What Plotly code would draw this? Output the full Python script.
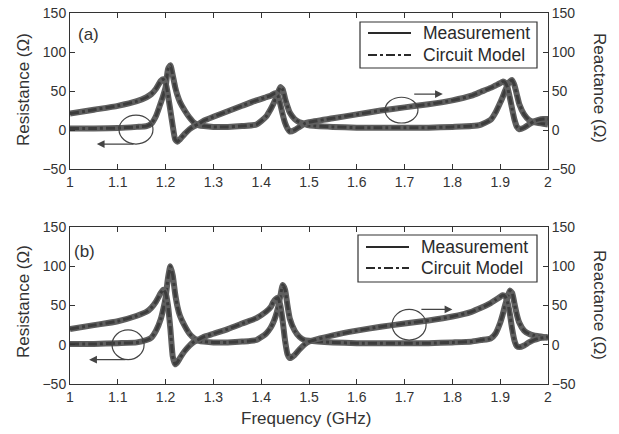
import plotly.graph_objects as go

# ---------------- data ----------------
freq = [1.00, 1.05, 1.10, 1.14, 1.16, 1.17, 1.18, 1.19, 1.195, 1.20, 1.205, 1.21, 1.215,
        1.22, 1.225, 1.23, 1.24, 1.25, 1.26, 1.27, 1.28, 1.30, 1.33, 1.36, 1.39, 1.41,
        1.42, 1.425, 1.43, 1.435, 1.44, 1.445, 1.45, 1.455, 1.46, 1.47, 1.48, 1.49, 1.50,
        1.55, 1.60, 1.65, 1.70, 1.75, 1.80, 1.84, 1.86, 1.88, 1.89, 1.90, 1.905, 1.91,
        1.915, 1.92, 1.925, 1.93, 1.935, 1.94, 1.95, 1.96, 1.97, 1.98, 1.99, 2.00]

# panel (a)
resistance_a = [2, 2, 2.5, 4, 5, 8, 18, 35, 44, 55, 78, 83, 70,
                55, 44, 36, 25, 16, 9, 6, 5, 4, 4, 5, 7, 17,
                27, 33, 40, 48, 55, 52, 40, 30, 22, 14, 10, 8, 6,
                4, 3, 3, 3, 3, 4, 5, 7, 13, 22, 35, 42, 50,
                57, 62, 64, 57, 45, 33, 20, 13, 10, 9, 8, 7]
reactance_a = [21, 26, 31, 37, 42, 46, 53, 63, 65, 60, 45, 25, 5,
               -12, -15, -12, -5, 1, 5, 8, 12, 17, 24, 31, 38, 42,
               44, 46, 47, 44, 33, 20, 9, 2, -2, 0, 4, 8, 10,
               15, 20, 25, 29, 33, 38, 44, 49, 54, 57, 60, 62, 61,
               55, 42, 27, 13, 4, 1, 3, 7, 11, 13, 14, 14]
model_resistance_a = resistance_a
model_reactance_a = reactance_a

# panel (b)
resistance_b = [1, 1, 2, 3, 6, 9, 18, 33, 45, 60, 85, 100, 88,
                65, 48, 37, 24, 14, 8, 5, 4, 3, 3, 4, 6, 14,
                22, 28, 36, 47, 62, 76, 70, 50, 33, 18, 10, 6, 5,
                3, 2, 2, 2, 2, 3, 4, 6, 8, 14, 28, 38, 50,
                60, 69, 66, 52, 38, 28, 18, 14, 12, 11, 10, 9]
reactance_b = [20, 25, 30, 37, 42, 47, 55, 66, 70, 66, 50, 20, -15,
               -25, -22, -17, -8, -1, 4, 7, 10, 14, 20, 27, 34, 42,
               48, 54, 58, 60, 50, 30, 5, -12, -17, -13, -6, 0, 4,
               12, 18, 23, 27, 31, 36, 42, 47, 53, 57, 61, 63, 62,
               55, 40, 20, 5, -2, -3, -1, 3, 6, 8, 9, 10]
model_resistance_b = resistance_b
model_reactance_b = reactance_b

x_ticks = [1, 1.1, 1.2, 1.3, 1.4, 1.5, 1.6, 1.7, 1.8, 1.9, 2]
x_ticklabels = ["1", "1.1", "1.2", "1.3", "1.4", "1.5", "1.6", "1.7", "1.8", "1.9", "2"]
y_ticks = [-50, 0, 50, 100, 150]
series_names = ["Measurement", "Circuit Model"]
series_dash = ["solid", "dashdot"]
panel_labels = ["(a)", "(b)"]

# decorations (circles marking curves, arrows pointing to axes), in data units
circles_a = [(1.1025, -18, 1.1736, 19), (1.659, 9, 1.728, 42)]
arrows_a = [((1.136, -18), (1.056, -18)), ((1.717, 46), (1.78, 46))]
circles_b = [(1.088, -19, 1.155, 19), (1.674, 6, 1.745, 45)]
arrows_b = [((1.119, -19), (1.04, -19)), ((1.732, 45), (1.80, 45))]

# ---------------- figure ----------------
W, H = 619, 434
FONT = "Arial, Liberation Sans, Helvetica, sans-serif"
TXT = "#333333"
MEAS_C = "#5f5f5f"
MODEL_C = "#3c3c3c"

x_dom = [70 / W, 548 / W]
top_dom = [1 - 169 / H, 1 - 13 / H]
bot_dom = [1 - 384 / H, 1 - 227 / H]

fig = go.Figure()

def add_panel(xa, ya_l, ya_r, R, X, mR, mX):
    for yv, ya in ((R, ya_l), (X, ya_r)):
        fig.add_trace(go.Scatter(x=freq, y=yv, xaxis=xa, yaxis=ya, mode="lines",
                                 name=series_names[0], showlegend=False,
                                 line=dict(color=MEAS_C, width=6, shape="spline", smoothing=0.5),
                                 hoverinfo="skip"))
    for yv, ya in ((mR, ya_l), (mX, ya_r)):
        fig.add_trace(go.Scatter(x=freq, y=yv, xaxis=xa, yaxis=ya, mode="lines",
                                 name=series_names[1], showlegend=False,
                                 line=dict(color=MODEL_C, width=3, dash="dashdot",
                                           shape="spline", smoothing=0.5),
                                 hoverinfo="skip"))

add_panel("x", "y", "y2", resistance_a, reactance_a, model_resistance_a, model_reactance_a)
add_panel("x2", "y3", "y4", resistance_b, reactance_b, model_resistance_b, model_reactance_b)

xcommon = dict(range=[1, 2], tickvals=x_ticks, ticktext=x_ticklabels, ticks="inside",
               ticklen=5, tickcolor="#333", showline=True, linecolor="#333", linewidth=1,
               mirror="ticks", showgrid=False, zeroline=False, domain=x_dom,
               tickfont=dict(family=FONT, size=14, color=TXT), automargin=False)
ycommon = dict(range=[-50, 150], tickvals=y_ticks, ticks="inside", ticklen=5,
               tickcolor="#333", showline=True, linecolor="#333", linewidth=1,
               showgrid=False, zeroline=False,
               tickfont=dict(family=FONT, size=14, color=TXT), automargin=False)

shapes = []
annotations = []

def decorate(xr, yr, circles, arrows):
    for (x0, y0, x1, y1) in circles:
        shapes.append(dict(type="circle", xref=xr, yref=yr, x0=x0, y0=y0, x1=x1, y1=y1,
                           line=dict(color="#444", width=1.2)))
    for (tail, head) in arrows:
        annotations.append(dict(xref=xr, yref=yr, axref=xr, ayref=yr,
                                x=head[0], y=head[1], ax=tail[0], ay=tail[1],
                                text="", showarrow=True, arrowhead=2, arrowsize=1.3,
                                arrowwidth=1.2, arrowcolor="#444", standoff=0, startstandoff=0))

decorate("x", "y", circles_a, arrows_a)
decorate("x2", "y3", circles_b, arrows_b)

def ptxt(text, px, py, size=17, angle=0, anchor="center", color=TXT):
    annotations.append(dict(xref="paper", yref="paper", x=px / W, y=1 - py / H,
                            text=text, showarrow=False, textangle=angle,
                            font=dict(family=FONT, size=size, color=color),
                            xanchor=anchor, yanchor="middle"))

ptxt(panel_labels[0], 88, 34)
ptxt(panel_labels[1], 85, 251)
ptxt("Resistance (Ω)", 23, 90, angle=-90)
ptxt("Reactance (Ω)", 600, 88, angle=90)
ptxt("Resistance (Ω)", 23, 302, angle=-90)
ptxt("Reactance (Ω)", 600, 305, angle=90)
ptxt("Frequency (GHz)", 306, 418)

# legend boxes (drawn in pixel positions of the page)
def legend_box(x0, y0, x1, y1, rows):
    shapes.append(dict(type="rect", xref="paper", yref="paper",
                       x0=x0 / W, x1=x1 / W, y0=1 - y1 / H, y1=1 - y0 / H,
                       line=dict(color="#333", width=1.2), fillcolor="white", layer="above"))
    for name, dash, ry in zip(series_names, series_dash, rows):
        shapes.append(dict(type="line", xref="paper", yref="paper",
                           x0=(x0 + 8) / W, x1=(x0 + 51) / W, y0=1 - ry / H, y1=1 - ry / H,
                           line=dict(color="#2a2a2a", width=2, dash=dash), layer="above"))
        ptxt(name, x0 + 61, ry, size=17.5, anchor="left", color="#2a2a2a")

legend_box(360, 22, 537, 68, [33, 55])
legend_box(358, 235, 537, 282, [247, 268])

fig.update_layout(
    width=W, height=H,
    margin=dict(l=0, r=0, t=0, b=0),
    paper_bgcolor="white", plot_bgcolor="white",
    xaxis=dict(xcommon, anchor="y"),
    xaxis2=dict(xcommon, anchor="y3"),
    yaxis=dict(ycommon, domain=top_dom, anchor="x"),
    yaxis2=dict(ycommon, overlaying="y", side="right", anchor="x"),
    yaxis3=dict(ycommon, domain=bot_dom, anchor="x2"),
    yaxis4=dict(ycommon, overlaying="y3", side="right", anchor="x2"),
    shapes=shapes,
    annotations=annotations,
    showlegend=False,
)

fig.write_html("out.html", config={"displayModeBar": False},
               post_script="document.body.style.margin='0';")
